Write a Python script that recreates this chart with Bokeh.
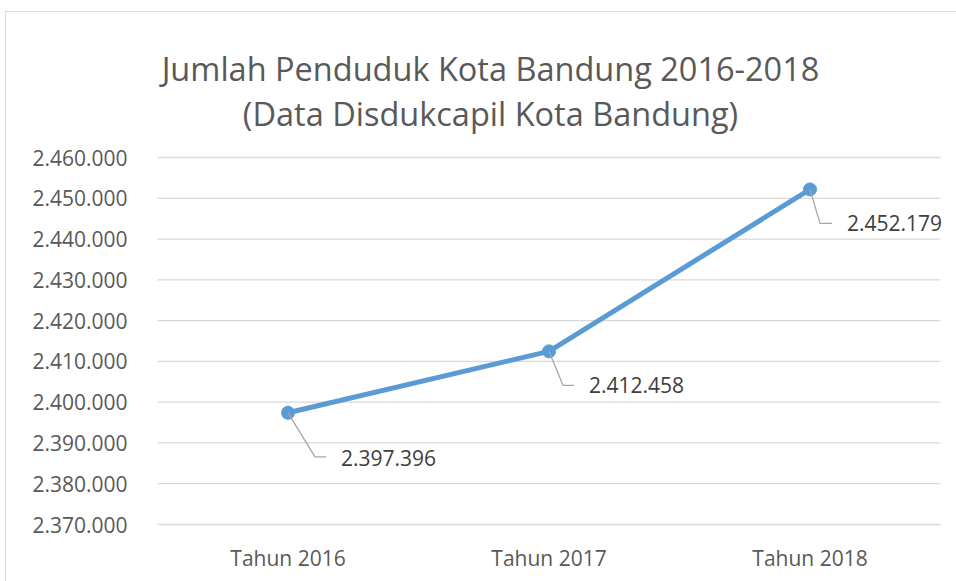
from bokeh.plotting import figure
from bokeh.models import Range1d, FixedTicker, ColumnDataSource
from bokeh.core.properties import value
from bokeh.embed import file_html
from bokeh.resources import INLINE

categories = ["Tahun 2016", "Tahun 2017", "Tahun 2018"]
penduduk = [2397396, 2412458, 2452179]
label_texts = ["2.397.396", "2.412.458", "2.452.179"]
y_ticks = [2370000, 2380000, 2390000, 2400000, 2410000, 2420000,
           2430000, 2440000, 2450000, 2460000]
title_lines = ["Jumlah Penduduk Kota Bandung 2016-2018",
               "(Data Disdukcapil Kota Bandung)"]

FONT = "Open Sans"
GREY = "#595959"
BLUE = "#5b9bd5"

# canvas starts at window (6, 12) because of the margin + border
W, H = 951, 570
PLOT_L, PLOT_R, GRID_TOP, GRID_BOT = 151, 934, 145, 512   # canvas px
EXTRA_R = 8          # room for the last data label
TOP = 1              # frame top (canvas px) - title lives inside the frame
PAD_B = 3
ML, MR = PLOT_L, W - PLOT_R - EXTRA_R
MT, MB = TOP, H - GRID_BOT - PAD_B

x_pos = [i + 1 for i in range(len(categories))]
y_lo, y_hi = y_ticks[0], y_ticks[-1]
px_x = 3.0 / (PLOT_R - PLOT_L)
px_y = (y_hi - y_lo) / (GRID_BOT - GRID_TOP)

p = figure(width=W, height=H, output_backend="svg", toolbar_location=None,
           x_range=Range1d(0.5, 3.5 + EXTRA_R * px_x),
           y_range=Range1d(y_lo - PAD_B * px_y,
                           y_hi + (GRID_TOP - TOP) * px_y),
           min_border_left=ML, min_border_right=MR, min_border_top=MT,
           min_border_bottom=MB,
           styles={"margin-left": "5px", "margin-top": "11px",
                   "border-left": "1px solid #d9d9d9",
                   "border-top": "1px solid #d9d9d9"})
p.outline_line_color = None
p.background_fill_color = "white"
p.border_fill_color = "white"

# axes
p.xaxis.ticker = FixedTicker(ticks=x_pos)
p.xaxis.major_label_overrides = {x: c for x, c in zip(x_pos, categories)}
p.yaxis.ticker = FixedTicker(ticks=y_ticks)
p.yaxis.major_label_overrides = {
    t: f"{t:,}".replace(",", ".") for t in y_ticks}
for ax in (p.xaxis, p.yaxis):
    ax.axis_line_color = None
    ax.major_tick_line_color = None
    ax.minor_tick_line_color = None
    ax.major_label_text_font = FONT
    ax.major_label_text_font_size = "21px"
    ax.major_label_text_color = GREY
p.yaxis.major_label_standoff = 24
p.xaxis.major_label_standoff = 10
p.xgrid.grid_line_color = None
p.ygrid.grid_line_color = None

# horizontal gridlines, spanning the category area only
p.segment(x0=[0.5] * len(y_ticks), x1=[3.5] * len(y_ticks),
          y0=y_ticks, y1=y_ticks, line_color="#d9d9d9", line_width=1.3)

src = ColumnDataSource(dict(x=x_pos, y=penduduk, t=label_texts))
p.line("x", "y", source=src, line_color=BLUE, line_width=5)
p.scatter("x", "y", source=src, size=13, fill_color=BLUE, line_color=BLUE)

# leader lines (pixel offsets converted to data units)
leaders = [(27, 44, 38), (14, 34, 25), (10, 34, 22)]
text_off = [(53, 45), (40, 34), (37, 34)]
xs, ys = [], []
for xv, yv, (dx1, dy1, dx2) in zip(x_pos, penduduk, leaders):
    xs.append([xv, xv + dx1 * px_x, xv + dx2 * px_x])
    ys.append([yv, yv - dy1 * px_y, yv - dy1 * px_y])
p.multi_line(xs, ys, line_color="#a6a6a6", line_width=1.3)
src_lab = ColumnDataSource(dict(
    x=[xv + o[0] * px_x for xv, o in zip(x_pos, text_off)],
    y=[yv - o[1] * px_y for yv, o in zip(penduduk, text_off)],
    t=label_texts))
p.text("x", "y", text="t", source=src_lab, text_font=value(FONT),
       text_font_size="21px", text_color="#404040",
       text_baseline="middle", text_align="left")

# two-line title, centred on the chart area, baselines 45 px apart
title_cx = 0.5 + (490 - 6 - PLOT_L) * px_x
title_base = [y_hi + (GRID_TOP - (68 - 12)) * px_y,
              y_hi + (GRID_TOP - (113 - 12)) * px_y]
p.text(x=[title_cx] * 2, y=title_base, text=title_lines,
       text_font=value(FONT), text_font_size="32.5px", text_color=GREY,
       text_align="center", text_baseline="alphabetic")

open("out.html", "w").write(file_html(p, INLINE))
